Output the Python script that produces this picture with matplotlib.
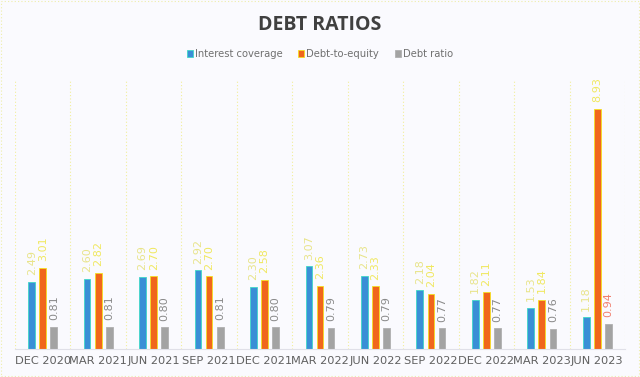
import matplotlib
matplotlib.use("Agg")
import matplotlib.pyplot as plt
import numpy as np
from matplotlib.patches import Rectangle

categories = ["DEC 2020", "MAR 2021", "JUN 2021", "SEP 2021", "DEC 2021", "MAR 2022",
              "JUN 2022", "SEP 2022", "DEC 2022", "MAR 2023", "JUN 2023"]
interest_coverage = [2.49, 2.60, 2.69, 2.92, 2.30, 3.07, 2.73, 2.18, 1.82, 1.53, 1.18]
debt_to_equity = [3.01, 2.82, 2.70, 2.70, 2.58, 2.36, 2.33, 2.04, 2.11, 1.84, 8.93]
debt_ratio = [0.81, 0.81, 0.80, 0.81, 0.80, 0.79, 0.79, 0.77, 0.77, 0.76, 0.94]
series_names = ["Interest coverage", "Debt-to-equity", "Debt ratio"]

bg = "#fafafe"
fig = plt.figure(figsize=(6.4, 3.77), dpi=100, facecolor=bg)
ax = fig.add_axes([15/640, (377-349)/377, 610/640, (349-80)/377], facecolor=bg)

x = np.arange(len(categories))
w = 0.12
off = 0.2
colors = ["#3a8fd6", "#f0661c", "#a3a3a3"]
edge = ["#3fd8c8", "#f5e020", "#b0b0b0"]
data = [interest_coverage, debt_to_equity, debt_ratio]
lblcol = ["#e8e48a", "#f0e860", "#8a8a8a"]
for i, (vals, c, e) in enumerate(zip(data, colors, edge)):
    bars = ax.bar(x + (i - 1) * off, vals, w, color=c, edgecolor=e, linewidth=0.6, label=series_names[i])
    for j, (b, v) in enumerate(zip(bars, vals)):
        col = lblcol[i]
        if i == 2 and j == len(vals) - 1:
            col = "#f08070"
        ax.text(b.get_x() + b.get_width() / 2, v + 0.25, f"{v:.2f}", rotation=90,
                ha="center", va="bottom", fontsize=8, color=col)

ax.set_xlim(-0.5, len(categories) - 0.5)
ax.set_ylim(0, 10)
for k in range(len(categories) + 1):
    ax.axvline(k - 0.5, color="#f2ee9a", lw=0.8, ls=(0, (1, 2)))
ax.set_yticks([])
ax.set_xticks(x)
ax.set_xticklabels(categories, fontsize=8.2, color="#606060")
ax.tick_params(axis="x", length=0, pad=5)
for t in ax.get_xticklabels():
    t.set_fontfamily("DejaVu Sans")
for s in ["left", "right", "top"]:
    ax.spines[s].set_visible(False)
ax.spines["bottom"].set_color("#e0e0e8")

fig.text(0.5, 1 - 25/377, "DEBT RATIOS", ha="center", va="center", fontsize=14,
         fontweight="bold", color="#404040", family="Open Sans")
leg = fig.legend(loc="center", bbox_to_anchor=(0.5, 1 - 54/377), ncol=3, frameon=False,
                 fontsize=7.2, handlelength=0.6, handleheight=0.6, columnspacing=1.6,
                 handletextpad=0.2)
for t in leg.get_texts():
    t.set_color("#707070")

fig.patches.append(Rectangle((0.002, 0.003), 0.996, 0.994, transform=fig.transFigure,
                             fill=False, edgecolor="#eeeeaa", lw=0.8, ls=(0, (1, 2))))
fig.savefig("out.png", dpi=100, facecolor=bg)
